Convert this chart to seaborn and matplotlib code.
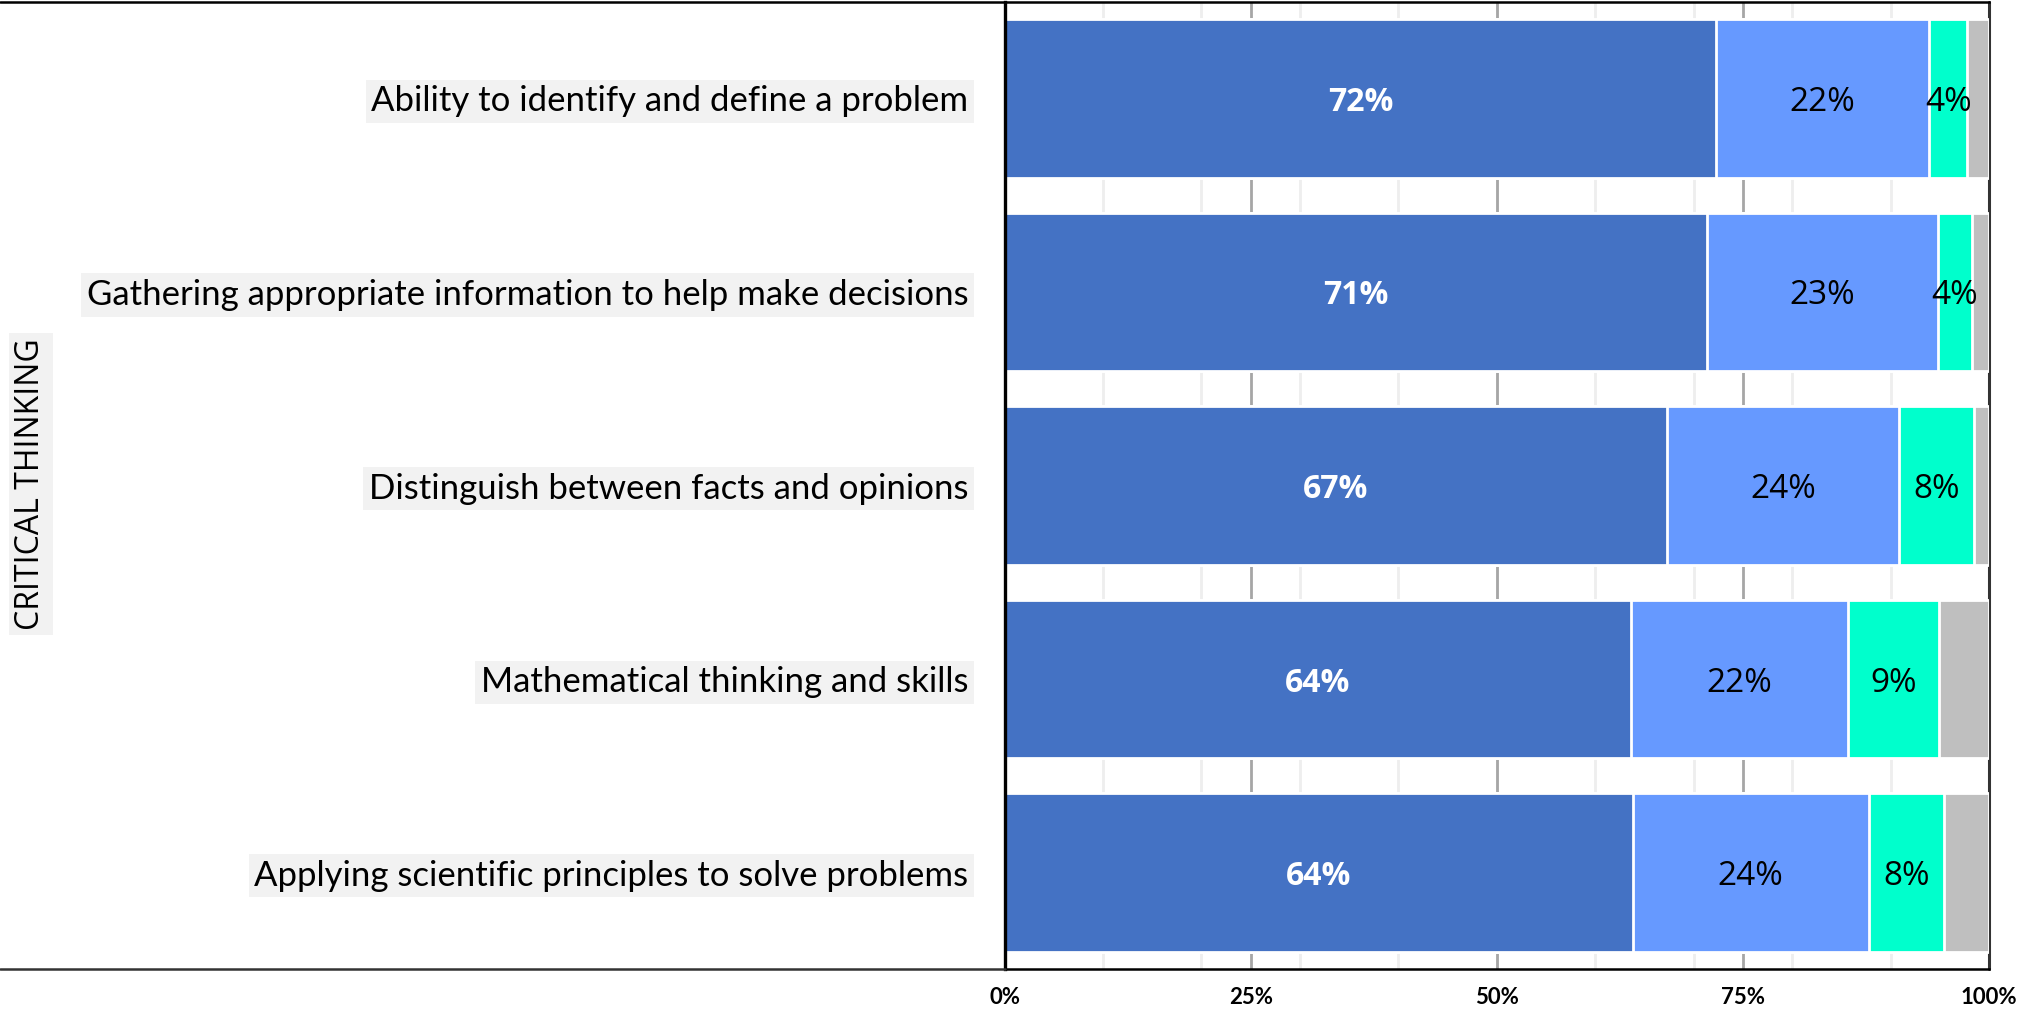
import matplotlib
matplotlib.use("Agg")
import matplotlib.pyplot as plt
from matplotlib.lines import Line2D
import seaborn as sns
import pandas as pd
import numpy as np

categories = [
    "Ability to identify and define a problem",
    "Gathering appropriate information to help make decisions",
    "Distinguish between facts and opinions",
    "Mathematical thinking and skills",
    "Applying scientific principles to solve problems",
]
very_important = [72.3, 71.4, 67.3, 63.6, 63.8]
important = [21.6, 23.4, 23.6, 22.1, 24.0]
somewhat = [3.9, 3.5, 7.6, 9.2, 7.6]
other = [2.2, 1.7, 1.5, 5.1, 4.6]
group_label = "CRITICAL THINKING"
x_ticks = [0, 25, 50, 75, 100]
x_tick_labels = ["0%", "25%", "50%", "75%", "100%"]

colors = ["#4472C4", "#6699FF", "#00FFCC", "#BFBFBF"]
series = [very_important, important, somewhat, other]

sns.set_theme(style="white")

fig = plt.figure(figsize=(20.18, 10.10), dpi=100)
ax = fig.add_axes([0.4978, 0.0402, 0.4878, 0.9582])

cums = np.cumsum(np.array(series), axis=0)
# draw from the full total back to the first segment so they stack
for k in range(len(series) - 1, -1, -1):
    df = pd.DataFrame({"cat": categories, "val": cums[k]})
    sns.barplot(data=df, x="val", y="cat", order=categories, orient="h",
                color=colors[k], saturation=1, width=0.82, errorbar=None,
                edgecolor="white", linewidth=2, ax=ax, zorder=2)

# value labels (first three series)
for k in range(3):
    for i, v in enumerate(series[k]):
        start = cums[k][i] - v
        ax.text(start + v / 2, i, f"{round(v)}%", ha="center",
                va="center_baseline",
                fontsize=23 if k == 0 else 24, family="Open Sans",
                color="white" if k == 0 else "black",
                fontweight="bold" if k == 0 else "normal", zorder=5)

ax.set_xlim(0, 100)
ax.set_ylim(4.5, -0.5)
ax.set_xlabel("")
ax.set_ylabel("")

# gridlines
ax.set_xticks(x_ticks)
ax.set_xticklabels(x_tick_labels)
ax.grid(False)
for xv in np.arange(10, 100, 10):
    ax.axvline(xv, color="#eeeeee", lw=2, zorder=0.5)
for xv in x_ticks[1:-1]:
    ax.axvline(xv, color="#a6a6a6", lw=2, zorder=0.6)
ax.axvline(100, color="#333333", lw=2.2, zorder=0.7, clip_on=False)

ax.tick_params(axis="x", which="both", length=0, pad=13)
ax.tick_params(axis="y", length=0, pad=26)
for lab in ax.get_xticklabels():
    lab.set_fontfamily("Lato")
    lab.set_fontweight("bold")
    lab.set_fontsize(16)
    lab.set_color("black")
for lab in ax.get_yticklabels():
    lab.set_fontfamily("Lato")
    lab.set_fontsize(25)
    lab.set_color("black")
    lab.set_bbox(dict(facecolor="#f2f2f2", edgecolor="none", pad=4))

for side in ["left", "top", "bottom"]:
    ax.spines[side].set_visible(True)
    ax.spines[side].set_color("black")
ax.spines["left"].set_linewidth(2.4)
ax.spines["top"].set_linewidth(1.8)
ax.spines["bottom"].set_linewidth(1.8)
ax.spines["right"].set_visible(False)

pos = ax.get_position()
fig.add_artist(Line2D([0, pos.x0], [pos.y1, pos.y1], color="black", lw=1.8,
                      transform=fig.transFigure))
fig.add_artist(Line2D([0, pos.x0], [pos.y0, pos.y0], color="#333333", lw=1.8,
                      transform=fig.transFigure))

fig.text(31 / 2018, 1 - 484 / 1010, group_label, rotation=90, ha="center",
         va="center", fontsize=23, family="Open Sans", color="black",
         bbox=dict(facecolor="#f2f2f2", edgecolor="none", pad=4))

fig.savefig("out.png", dpi=100)
